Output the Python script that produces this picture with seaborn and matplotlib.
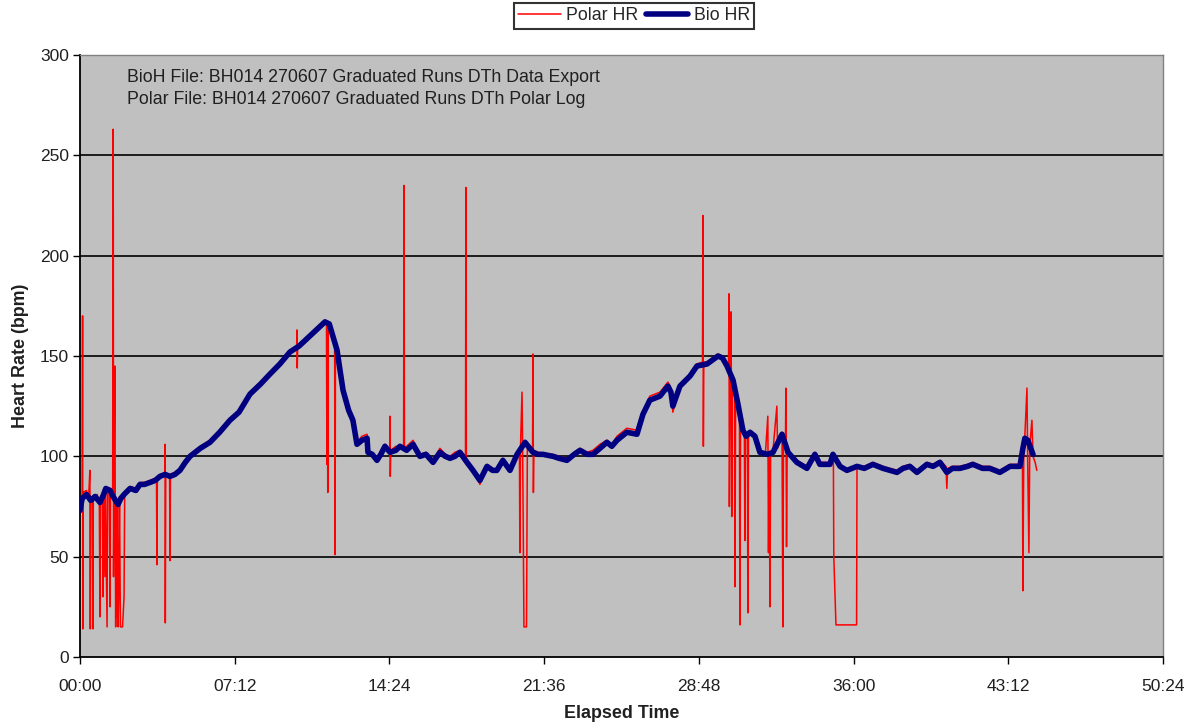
import matplotlib
matplotlib.use("Agg")
import matplotlib.pyplot as plt
from matplotlib.ticker import FuncFormatter, FixedLocator
import numpy as np
import pandas as pd
import seaborn as sns

# ---------------- data (elapsed minutes, bpm) ----------------
bio_t = [0.0, 0.1, 0.3, 0.5, 0.7, 0.93, 1.1, 1.2, 1.4, 1.54, 1.77, 1.9, 2.05, 2.33, 2.6, 2.79,
         3.0, 3.26, 3.5, 3.72, 3.96, 4.19, 4.42, 4.65, 4.9, 5.12, 5.6, 6.05, 6.5, 6.98, 7.4, 7.91,
         8.4, 8.84, 9.3, 9.77, 10.2, 10.7, 11.1, 11.4, 11.6, 11.96, 12.24, 12.5, 12.7, 12.89, 13.12,
         13.36, 13.40, 13.6, 13.82, 14.0, 14.19, 14.43, 14.7, 14.89, 15.2, 15.50, 15.82, 16.1, 16.43,
         16.75, 17.0, 17.22, 17.45, 17.68, 18.01, 18.29, 18.61, 18.94, 19.2, 19.40, 19.68, 20.01,
         20.34, 20.71, 21.08, 21.3, 21.54, 22.01, 22.3, 22.66, 23.0, 23.27, 23.6, 23.87, 24.2, 24.52,
         24.75, 24.99, 25.45, 25.92, 26.20, 26.52, 26.99, 27.36, 27.5, 27.59, 27.92, 28.39, 28.71,
         29.18, 29.69, 29.9, 30.11, 30.39, 30.62, 30.85, 31.0, 31.18, 31.41, 31.64, 32.0, 32.25,
         32.67, 32.95, 33.36, 33.83, 34.20, 34.43, 34.90, 35.04, 35.37, 35.69, 36.16, 36.5, 36.90,
         37.37, 38.02, 38.3, 38.62, 38.95, 39.41, 39.7, 40.02, 40.34, 40.6, 40.95, 41.3, 41.55, 42.0,
         42.34, 42.81, 43.28, 43.74, 43.88, 43.97, 44.11, 44.35]
bio_hr = [73, 79, 81, 78, 80, 77, 81, 84, 83, 80, 76, 79, 81, 84, 83, 86,
          86, 87, 88, 90, 91, 90, 91, 93, 97, 100, 104, 107, 112, 118, 122, 131,
          136, 141, 146, 152, 155, 160, 164, 167, 166, 153, 133, 123, 118, 106, 108,
          109, 102, 101, 98, 101, 105, 102, 103, 105, 103, 106, 100, 101, 97,
          102, 100, 99, 100, 102, 97, 93, 88, 95, 93, 93, 98, 93,
          101, 107, 102, 101, 101, 100, 99, 98, 101, 103, 101, 101, 104, 107,
          105, 108, 112, 111, 121, 128, 130, 135, 132, 125, 135, 140, 145,
          146, 150, 149, 145, 138, 126, 113, 110, 112, 110, 102, 101, 102,
          111, 102, 97, 94, 101, 96, 96, 101, 95, 93, 95, 94, 96,
          94, 92, 94, 95, 92, 96, 95, 97, 92, 94, 94, 95, 96, 94,
          94, 92, 95, 95, 104, 109, 108, 101]

polar_t = [0.00, 0.10, 0.12, 0.13, 0.15, 0.30, 0.40, 0.46, 0.48, 0.50, 0.58, 0.60, 0.62, 0.80,
           0.90, 0.93, 0.96, 1.05, 1.07, 1.09, 1.16, 1.18, 1.26, 1.28, 1.36, 1.40, 1.42, 1.52,
           1.54, 1.55, 1.56, 1.58, 1.62, 1.64, 1.66, 1.68, 1.72, 1.74, 1.77, 1.80, 1.84, 1.88,
           1.98, 2.05, 2.08, 2.33, 2.6, 2.79, 3.0, 3.26, 3.5, 3.56, 3.58, 3.60, 3.72, 3.94, 3.96,
           3.97, 3.99, 4.17, 4.19, 4.21, 4.42, 4.65, 4.9, 5.12, 5.6, 6.05, 6.5, 6.98, 7.4, 7.91,
           8.4, 8.84, 9.3, 9.77, 10.08, 10.10, 10.11, 10.13, 10.7, 11.1, 11.4, 11.47, 11.49,
           11.51, 11.53, 11.55, 11.85, 11.87, 11.89, 12.24, 12.5, 12.7, 12.89, 13.12, 13.36,
           13.40, 13.6, 13.82, 14.0, 14.19, 14.41, 14.43, 14.44, 14.46, 14.7, 14.89, 15.06,
           15.08, 15.10, 15.50, 15.82, 16.1, 16.43, 16.75, 17.0, 17.22, 17.45, 17.68, 17.94,
           17.96, 17.98, 18.29, 18.61, 18.94, 19.2, 19.40, 19.68, 20.01, 20.34, 20.45, 20.47,
           20.50, 20.57, 20.60, 20.66, 20.78, 20.82, 21.06, 21.08, 21.10, 21.12, 21.54, 22.01,
           22.3, 22.66, 23.0, 23.27, 23.6, 23.87, 24.2, 24.52, 24.75, 24.99, 25.45, 25.92,
           26.20, 26.52, 26.99, 27.36, 27.5, 27.59, 27.92, 28.39, 28.71, 28.97, 28.99, 29.01,
           29.03, 29.18, 29.69, 29.9, 30.11, 30.18, 30.20, 30.22, 30.26, 30.30, 30.33, 30.36,
           30.46, 30.48, 30.51, 30.62, 30.69, 30.71, 30.74, 30.85, 30.92, 30.94, 30.97, 31.06,
           31.08, 31.11, 31.41, 31.64, 31.9, 32.01, 32.04, 32.07, 32.11, 32.14, 32.25, 32.43,
           32.46, 32.67, 32.71, 32.74, 32.83, 32.85, 32.88, 32.91, 32.95, 33.36, 33.83, 34.20,
           34.43, 34.90, 35.06, 35.08, 35.18, 36.14, 36.16, 36.5, 36.90, 37.37, 38.02, 38.3,
           38.62, 38.95, 39.41, 39.7, 40.02, 40.30, 40.34, 40.38, 40.6, 40.95, 41.3, 41.55,
           42.0, 42.34, 42.81, 43.28, 43.74, 43.86, 43.88, 43.92, 43.97, 44.07, 44.10, 44.16,
           44.20, 44.30, 44.35, 44.45, 44.53]
polar_hr = [75, 80, 170, 14, 82, 83, 79, 93, 14, 80, 78, 14, 80, 81,
            76, 20, 79, 82, 30, 83, 40, 84, 15, 83, 82, 25, 84, 82,
            263, 215, 40, 80, 145, 78, 15, 78, 20, 77, 15, 30, 80, 15,
            15, 30, 82, 85, 84, 87, 87, 88, 89, 89, 46, 89, 91, 90, 106,
            17, 90, 90, 48, 91, 92, 94, 98, 101, 105, 108, 113, 119, 123, 132,
            137, 142, 147, 152, 154, 163, 144, 155, 161, 165, 168, 167, 96,
            166, 82, 165, 158, 51, 156, 134, 124, 119, 107, 110, 111,
            103, 100, 99, 103, 106, 103, 120, 90, 103, 105, 104, 104,
            235, 104, 108, 101, 102, 98, 104, 101, 100, 102, 103, 100,
            234, 97, 94, 86, 96, 94, 92, 99, 94, 102, 104, 52,
            105, 132, 103, 15, 15, 105, 103, 151, 82, 103, 101, 101,
            100, 99, 102, 104, 102, 103, 106, 108, 106, 110, 114, 113,
            122, 130, 132, 137, 134, 122, 136, 141, 146, 147, 220, 105,
            147, 147, 151, 150, 146, 144, 181, 75, 142, 172, 70, 140,
            130, 35, 125, 126, 120, 16, 115, 113, 110, 58, 111, 112,
            22, 111, 110, 101, 102, 120, 52, 101, 25, 102, 103, 125,
            104, 112, 15, 110, 106, 134, 55, 104, 102, 98, 95, 102,
            97, 97, 99, 50, 16, 16, 95, 95, 97, 95, 93, 95,
            96, 93, 97, 96, 98, 95, 84, 94, 95, 95, 96, 97,
            95, 95, 93, 96, 96, 95, 33, 100, 110, 134, 100, 52,
            105, 118, 100, 97, 93]

series_names = ["Polar HR", "Bio HR"]
y_ticks = [0, 50, 100, 150, 200, 250, 300]
x_ticks_min = [0, 7.2, 14.4, 21.6, 28.8, 36.0, 43.2, 50.4]
note_lines = ["BioH File: BH014 270607 Graduated Runs DTh Data Export",
              "Polar File: BH014 270607 Graduated Runs DTh Polar Log"]

# ---------------- plotting ----------------
sns.set_theme(style="white")
plt.rcParams["font.family"] = ["Liberation Sans", "DejaVu Sans"]

fig = plt.figure(figsize=(11.94, 7.27), dpi=100)
ax = fig.add_axes([80 / 1194, 1 - 657 / 727, (1163 - 80) / 1194, (657 - 55) / 727])
ax.set_facecolor("#C0C0C0")

df_polar = pd.DataFrame({"t": polar_t, "hr": polar_hr})
df_bio = pd.DataFrame({"t": bio_t, "hr": bio_hr})

sns.lineplot(data=df_polar, x="t", y="hr", ax=ax, color="#FF0000", lw=1.1,
             label=series_names[0], estimator=None, sort=False, zorder=3)
sns.lineplot(data=df_bio, x="t", y="hr", ax=ax, color="#000080", lw=4.0,
             label=series_names[1], estimator=None, sort=False, zorder=4)

ax.set_xlim(0, 50.4)
ax.set_ylim(0, 300)
ax.yaxis.set_major_locator(FixedLocator(y_ticks))
ax.xaxis.set_major_locator(FixedLocator(x_ticks_min))


def fmt_min(v, pos):
    total = int(round(v * 60))
    return f"{total // 60:02d}:{total % 60:02d}"


ax.xaxis.set_major_formatter(FuncFormatter(fmt_min))
for yv in y_ticks[1:-1]:
    ax.axhline(yv, color="black", lw=1.2, zorder=1)

ax.tick_params(axis="both", direction="out", length=5, width=1, color="black",
               labelsize=12.5, labelcolor="#202020", bottom=True, left=True)
ax.tick_params(axis="x", pad=11)
ax.tick_params(axis="y", pad=3)

for s in ["left", "bottom"]:
    ax.spines[s].set_color("black")
    ax.spines[s].set_linewidth(1.3)
for s in ["top", "right"]:
    ax.spines[s].set_color("#808080")
    ax.spines[s].set_linewidth(1.0)

ax.set_xlabel("Elapsed Time", fontsize=12.9, fontweight="bold", labelpad=8, color="#202020")
ax.set_ylabel("Heart Rate (bpm)", fontsize=12.9, fontweight="bold", labelpad=8, color="#202020")

ax.text((127 - 80) / 1083, (657 - 77) / 602, note_lines[0], transform=ax.transAxes,
        fontsize=12.8, color="#202020", va="center", ha="left")
ax.text((127 - 80) / 1083, (657 - 99) / 602, note_lines[1], transform=ax.transAxes,
        fontsize=12.8, color="#202020", va="center", ha="left")

handles, labels = ax.get_legend_handles_labels()
ax.get_legend().remove()
leg = fig.legend(handles, labels, loc="center", bbox_to_anchor=(634 / 1194, 1 - 16 / 727),
                 ncol=2, frameon=True, fancybox=False, fontsize=12.8, handlelength=2.4,
                 columnspacing=0.4, handletextpad=0.3, borderpad=0.25, borderaxespad=0)
leg.get_frame().set_edgecolor("black")
leg.get_frame().set_linewidth(1.5)

fig.savefig("out.png", dpi=100, facecolor="white")
